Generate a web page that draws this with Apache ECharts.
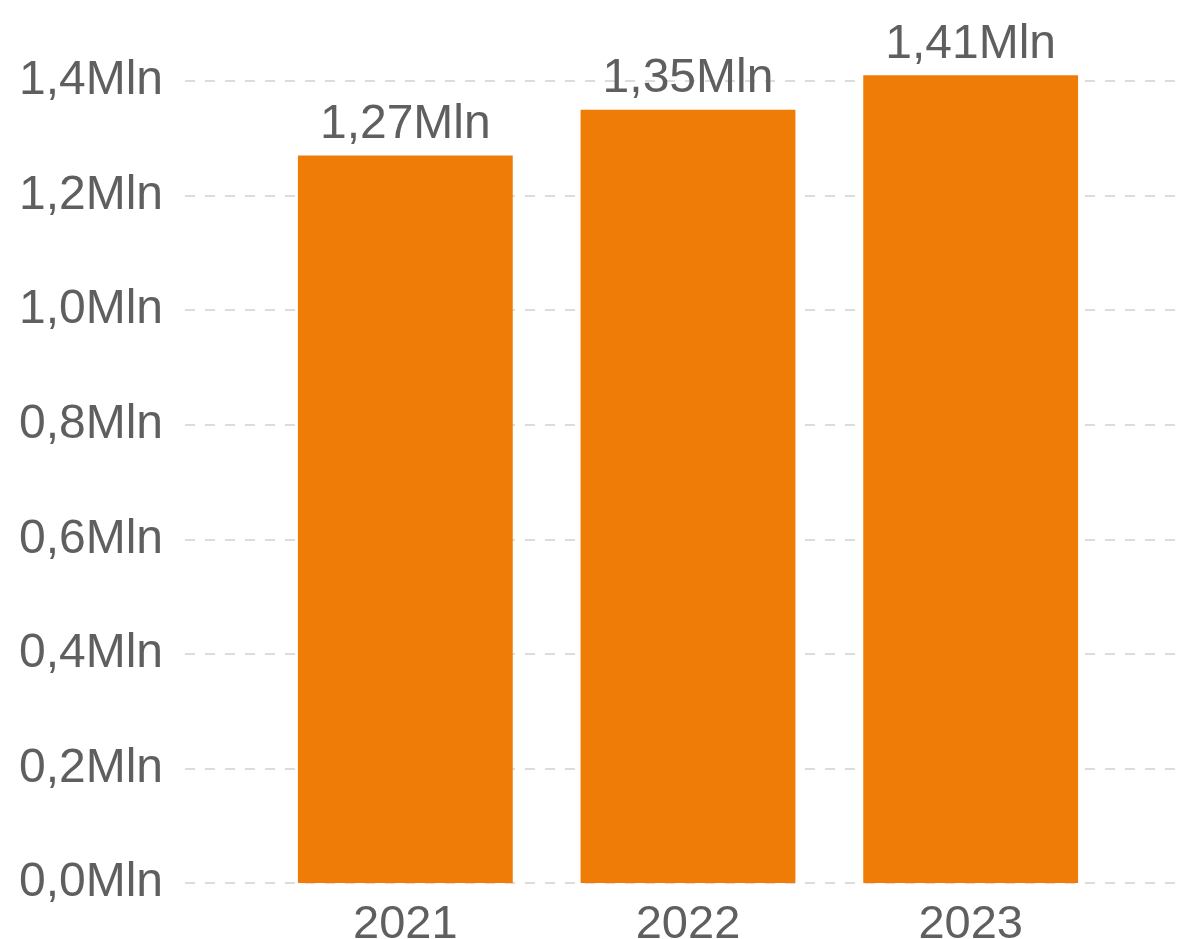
<!DOCTYPE html>
<html>
<head>
<meta charset="utf-8">
<script src="https://cdn.jsdelivr.net/npm/echarts@6/dist/echarts.min.js"></script>
<style>html,body{margin:0;padding:0;background:#fff;}#c{width:1185px;height:939px;}</style>
</head>
<body>
<div id="c"></div>
<script>
const categories = ['2021', '2022', '2023'];
const values = [1.27, 1.35, 1.41]; // millions
const yMin = 0, yMax = 1.4, yInterval = 0.2;

const FONT = '"Liberation Sans", Arial, sans-serif';
const TXT = '#5f5f5f';
const chart = echarts.init(document.getElementById('c'));
const fmt = (v, d) => v.toFixed(d).replace('.', ',') + 'Mln';

chart.setOption({
  animation: false,
  grid: [
    { left: 185, right: 10, top: 81, bottom: 56, outerBoundsMode: 'none', containLabel: false },
    { left: 264, right: 73, top: 81, bottom: 56, outerBoundsMode: 'none', containLabel: false }
  ],
  xAxis: [
    { type: 'value', gridIndex: 0, show: false, min: 0, max: 1 },
    {
      type: 'category', gridIndex: 1, data: categories,
      axisLine: { show: false }, axisTick: { show: false },
      axisLabel: { color: TXT, fontFamily: FONT, fontSize: 47, margin: 19 }
    }
  ],
  yAxis: [
    {
      type: 'value', gridIndex: 0, min: yMin, max: yMax, interval: yInterval,
      axisLine: { show: false }, axisTick: { show: false },
      axisLabel: { color: TXT, fontFamily: FONT, fontSize: 48, margin: 22, formatter: v => fmt(v, 1) },
      splitLine: { lineStyle: { color: '#dcdcdc', width: 2, type: [10, 10] } }
    },
    { type: 'value', gridIndex: 1, min: yMin, max: yMax, show: false, splitLine: { show: false } }
  ],
  series: [{
    type: 'bar', xAxisIndex: 1, yAxisIndex: 1, data: values,
    clip: false,
    barCategoryGap: '24%',
    itemStyle: { color: '#f07c08' },
    label: {
      show: true, position: 'top', distance: 7,
      color: TXT, fontFamily: FONT, fontSize: 48,
      formatter: p => fmt(p.value, 2)
    }
  }]
});
</script>
</body>
</html>
